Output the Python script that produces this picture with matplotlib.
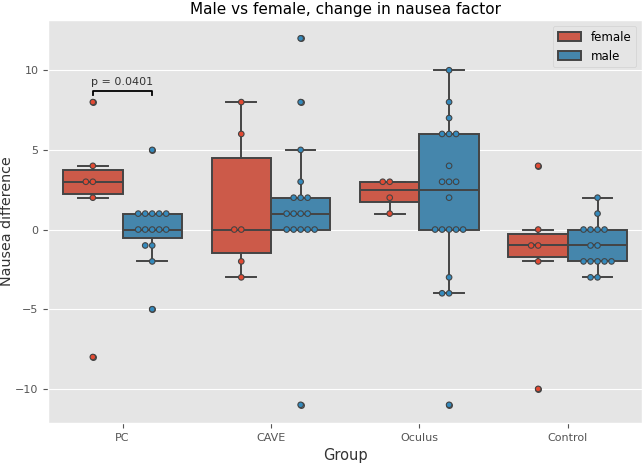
import numpy as np
import pandas as pd
import matplotlib
matplotlib.use('Agg')
import matplotlib.pyplot as plt
import seaborn as sns

plt.style.use('ggplot')

groups = ['PC', 'CAVE', 'Oculus', 'Control']
genders = ['female', 'male']
colors = ['#E24A33', '#348ABD']

# nausea difference per participant
pc_female = [8, 4, 3, 3, 2, -8]
pc_male = [5, 1, 1, 1, 1, 1, 0, 0, 0, 0, 0, -1, -1, -2, -5]
cave_female = [8, 6, 0, 0, -2, -3]
cave_male = [12, 8, 5, 3, 2, 2, 2, 1, 1, 1, 1, 0, 0, 0, 0, 0, -11]
oculus_female = [3, 3, 2, 1]
oculus_male = [10, 8, 7, 6, 6, 6, 4, 3, 3, 3, 2, 0, 0, 0, 0, 0, -3, -4, -4, -11]
control_female = [4, 0, -1, -1, -2, -10]
control_male = [2, 1, 0, 0, 0, 0, -1, -1, -2, -2, -2, -2, -2, -3, -3]

p_text = 'p = 0.0401'

rows = []
values = {
    ('PC', 'female'): pc_female, ('PC', 'male'): pc_male,
    ('CAVE', 'female'): cave_female, ('CAVE', 'male'): cave_male,
    ('Oculus', 'female'): oculus_female, ('Oculus', 'male'): oculus_male,
    ('Control', 'female'): control_female, ('Control', 'male'): control_male,
}
for (g, s), vals in values.items():
    for v in vals:
        rows.append({'Group': g, 'Sex': s, 'Nausea difference': v})
df = pd.DataFrame(rows)

fig, ax = plt.subplots(figsize=(6.44, 4.66), dpi=100)
fig.subplots_adjust(left=0.075, right=0.997, top=0.957, bottom=0.092)

sns.boxplot(data=df, x='Group', y='Nausea difference', hue='Sex',
            order=groups, hue_order=genders, palette=colors, ax=ax,
            linewidth=1.4, fliersize=4, linecolor='#444444')
sns.swarmplot(data=df, x='Group', y='Nausea difference', hue='Sex',
              order=groups, hue_order=genders, palette=colors, ax=ax,
              dodge=True, size=4, linewidth=0.8, edgecolor='#444444',
              legend=False)

# significance bracket between PC female and PC male
x1, x2 = -0.2, 0.2
y, h = 8.45, 0.25
ax.plot([x1, x1, x2, x2], [y, y + h, y + h, y], lw=1.3, color='k')
ax.text((x1 + x2) / 2, y + h + 0.25, p_text, ha='center', va='bottom',
        fontsize=8, color='#333333')

ax.set_xlim(-0.5, 3.5)
ax.set_title('Male vs female, change in nausea factor', fontsize=11, pad=4)
ax.set_xlabel('Group', fontsize=10.5, color='#333333')
ax.set_ylabel('Nausea difference', fontsize=10.3, color='#333333')
ax.yaxis.set_label_coords(-0.058, 0.5)
ax.tick_params(labelsize=8)
ax.set_yticks([-10, -5, 0, 5, 10])
ax.grid(axis='x', visible=False)

handles, labels = ax.get_legend_handles_labels()
ax.legend(handles[:2], labels[:2], loc='upper right', fontsize=8.5)

plt.savefig('out.png', dpi=100)
